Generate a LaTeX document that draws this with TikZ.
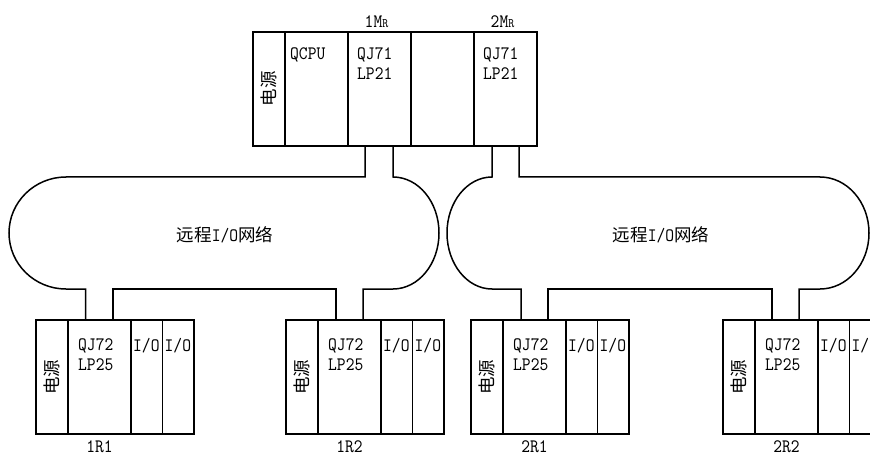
\documentclass[tikz,border=0pt]{standalone}
\usepackage{fontspec}
\newfontfamily\hanzi{Noto Sans CJK SC}
\newfontfamily\halfw{lmmono10-regular.otf}[FakeStretch=0.88]
\usetikzlibrary{positioning,calc}

\tikzset{
    unit/.style={draw, line width=1.8pt, outer sep=0pt, inner sep=0pt, minimum width=63pt, minimum height=114pt},
    pwr/.style={unit, minimum width=32pt},
    iou/.style={unit, minimum width=31.5pt},
    lbl/.style={font=\halfw\fontsize{19}{20}\selectfont, inner sep=0pt, align=left, anchor=north west},
    pwtxt/.style={font=\hanzi\fontsize{17.5}{18}\selectfont, inner sep=0pt, rotate=90},
    ring/.style={line width=1.5pt}
}

\begin{document}
\begin{tikzpicture}[x=1pt, y=1pt]
            \useasboundingbox (0,0) rectangle (870,456);
            \clip (0,0) rectangle (870,456);

            % main station
            \node[pwr, anchor=north west] (mpw) at (253,424) {};
            \node[unit, right=0pt of mpw] (mcpu) {};
            \node[unit, right=0pt of mcpu] (mr1) {};
            \node[unit, right=0pt of mr1] (mgap) {};
            \node[unit, right=0pt of mgap] (mr2) {};
            \node[pwtxt] (mpwt) at (mpw) {电源};
            \node[lbl] (mcput) at ($(mcpu.north west)+(5,-15)$) {QCPU};
            \node[lbl] (mr1t) at ($(mr1.north west)+(9,-15)$) {QJ71\\LP21};
            \node[lbl] (mr2t) at ($(mr2.north west)+(9,-15)$) {QJ71\\LP21};
            \node[lbl, anchor=base] (mr1l) at ($(mr1.north)+(-3,4)$) {1M{\fontsize{13}{13}\selectfont R}};
            \node[lbl, anchor=base] (mr2l) at ($(mr2.north)+(-3,4)$) {2M{\fontsize{13}{13}\selectfont R}};

            % remote stations
            \node[pwr, anchor=north west] (r11pw) at (36,136) {};
            \node[unit, right=0pt of r11pw] (r11q) {};
            \node[iou, right=0pt of r11q] (r11io) {};
            \node[iou, right=0pt of r11io] (r11ioo) {};

            \node[pwr, anchor=north west] (r12pw) at (286,136) {};
            \node[unit, right=0pt of r12pw] (r12q) {};
            \node[iou, right=0pt of r12q] (r12io) {};
            \node[iou, right=0pt of r12io] (r12ioo) {};

            \node[pwr, anchor=north west] (r21pw) at (471,136) {};
            \node[unit, right=0pt of r21pw] (r21q) {};
            \node[iou, right=0pt of r21q] (r21io) {};
            \node[iou, right=0pt of r21io] (r21ioo) {};

            \node[pwr, anchor=north west] (r22pw) at (723,136) {};
            \node[unit, right=0pt of r22pw] (r22q) {};
            \node[iou, right=0pt of r22q] (r22io) {};
            \node[iou, right=0pt of r22io] (r22ioo) {};

            \node[pwtxt] (r11pwt) at (r11pw) {电源};
            \node[pwtxt] (r12pwt) at (r12pw) {电源};
            \node[pwtxt] (r21pwt) at (r21pw) {电源};
            \node[pwtxt] (r22pwt) at (r22pw) {电源};

            \node[lbl] (r11qt) at ($(r11q.north west)+(10,-18)$) {QJ72\\LP25};
            \node[lbl] (r12qt) at ($(r12q.north west)+(10,-18)$) {QJ72\\LP25};
            \node[lbl] (r21qt) at ($(r21q.north west)+(10,-18)$) {QJ72\\LP25};
            \node[lbl] (r22qt) at ($(r22q.north west)+(10,-18)$) {QJ72\\LP25};

            \node[lbl] (r11iot) at ($(r11io.north west)+(2,-18)$) {I/O};
            \node[lbl] (r11iout) at ($(r11ioo.north west)+(2,-18)$) {I/O};
            \node[lbl] (r12iot) at ($(r12io.north west)+(2,-18)$) {I/O};
            \node[lbl] (r12iout) at ($(r12ioo.north west)+(2,-18)$) {I/O};
            \node[lbl] (r21iot) at ($(r21io.north west)+(2,-18)$) {I/O};
            \node[lbl] (r21iout) at ($(r21ioo.north west)+(2,-18)$) {I/O};
            \node[lbl] (r22iot) at ($(r22io.north west)+(2,-18)$) {I/O};
            \node[lbl] (r22iout) at ($(r22ioo.north west)+(2,-18)$) {I/O};

            \node[lbl, anchor=north] (r11l) at ($(r11q.south)+(0,-6)$) {1R1};
            \node[lbl, anchor=north] (r12l) at ($(r12q.south)+(0,-6)$) {1R2};
            \node[lbl, anchor=north] (r21l) at ($(r21q.south)+(0,-6)$) {2R1};
            \node[lbl, anchor=north] (r22l) at ($(r22q.south)+(0,-6)$) {2R2};

            % ports and ring levels
            \coordinate (m1a) at ($(mr1.south west)+(17,0)$);
            \coordinate (m1b) at ($(mr1.south west)+(45,0)$);
            \coordinate (m2a) at ($(mr2.south west)+(18,0)$);
            \coordinate (m2b) at ($(mr2.south west)+(45,0)$);
            \coordinate (r11a) at ($(r11q.north west)+(17.5,0)$);
            \coordinate (r11b) at ($(r11q.north west)+(45,0)$);
            \coordinate (r12a) at ($(r12q.north west)+(18,0)$);
            \coordinate (r12b) at ($(r12q.north west)+(45,0)$);
            \coordinate (r21a) at ($(r21q.north west)+(18,0)$);
            \coordinate (r21b) at ($(r21q.north west)+(45,0)$);
            \coordinate (r22a) at ($(r22q.north west)+(17,0)$);
            \coordinate (r22b) at ($(r22q.north west)+(44,0)$);
            \coordinate (top) at (0,279);
            \coordinate (bot) at (0,167);
            \coordinate (o1l) at (66,279);
            \coordinate (o2r) at (820,167);

            % network 1
            \draw[ring] (m1a) |- (o1l) arc[start angle=90, end angle=270, x radius=57, y radius=56] -| (r11a);
            \draw[ring] (r11b) -- (r11b |- bot) -| (r12a);
            \draw[ring] (m1b) -- (m1b |- top) arc[start angle=90, end angle=-90, x radius=46, y radius=56] -| (r12b);
            \node[font=\halfw\fontsize{19}{20}\selectfont, inner sep=0pt] (net1) at (225,221) {{\hanzi\fontsize{17.5}{20}\selectfont 远程}I/O{\hanzi\fontsize{17.5}{20}\selectfont 网络}};

            % network 2
            \draw[ring] (m2a) -- (m2a |- top) arc[start angle=90, end angle=270, x radius=45, y radius=56] -| (r21a);
            \draw[ring] (r21b) -- (r21b |- bot) -| (r22a);
            \draw[ring] (r22b) |- (o2r) arc[start angle=-90, end angle=90, x radius=49, y radius=56] -| (m2b);
            \node[font=\halfw\fontsize{19}{20}\selectfont, inner sep=0pt] (net2) at (661,221) {{\hanzi\fontsize{17.5}{20}\selectfont 远程}I/O{\hanzi\fontsize{17.5}{20}\selectfont 网络}};
        \end{tikzpicture}
\end{document}
